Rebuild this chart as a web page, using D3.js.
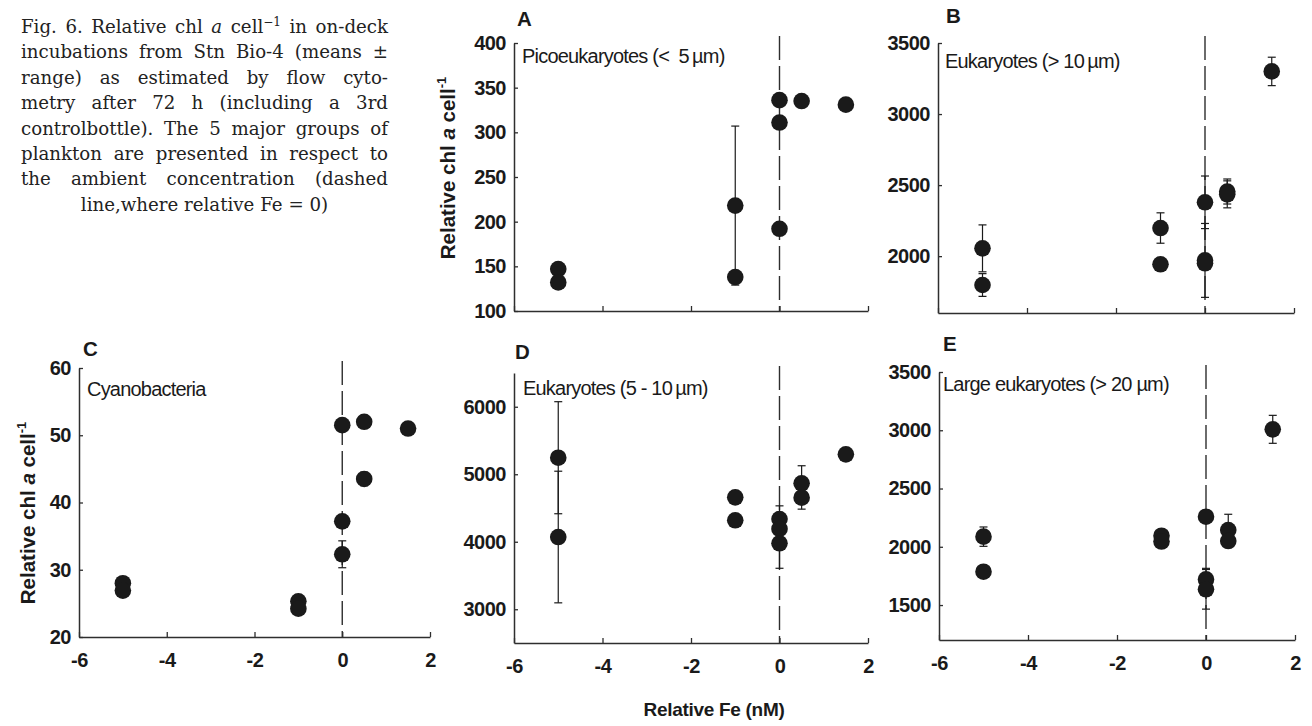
<!DOCTYPE html>
<html>
<head>
<meta charset="utf-8">
<script src="https://cdn.jsdelivr.net/npm/d3@7"></script>
<style>
  html, body { margin: 0; padding: 0; background: #fff; }
  svg { display: block; }
</style>
</head>
<body>
<svg id="chart" width="1312" height="726"></svg>
<script>
// x axis shared by all panels (relative Fe, nM)
const FE_TICKS = [-6, -4, -2, 0, 2];

// A - Picoeukaryotes (< 5 um)
const picoFe  = [-5, -5, -1, -1, 0, 0, 0, 0.5, 1.5];
const picoVal = [147, 132, 218, 138, 336, 311, 192, 335, 331];
const picoErr = [0, 0, 89, 0, 0, 0, 0, 0, 0];

// B - Eukaryotes (> 10 um)
const euk10Fe  = [-5, -5, -1, -1, 0, 0, 0, 0.5, 0.5, 1.5];
const euk10Val = [2055, 1797, 2198, 1943, 2379, 1970, 1950, 2455, 2435, 3300];
const euk10Err = [165, 80, 107, 0, 185, 260, 0, 88, 95, 100];

// C - Cyanobacteria
const cyanoFe  = [-5, -5, -1, -1, 0, 0, 0, 0.5, 0.5, 1.5];
const cyanoVal = [28.0, 26.9, 25.3, 24.2, 51.5, 37.2, 32.3, 52.0, 43.5, 51.0];
const cyanoErr = [0, 0, 0, 0, 0, 0, 2.0, 0, 1.0, 0];

// D - Eukaryotes (5 - 10 um)
const euk5Fe  = [-5, -5, -1, -1, 0, 0, 0, 0.5, 0.5, 1.5];
const euk5Val = [5245, 4070, 4658, 4318, 4337, 4189, 3977, 4866, 4653, 5295];
const euk5Err = [830, 975, 0, 0, 195, 0, 370, 260, 170, 0];

// E - Large eukaryotes (> 20 um)
const largeFe  = [-5, -5, -1, -1, 0, 0, 0, 0.5, 0.5, 1.5];
const largeVal = [2087, 1786, 2095, 2045, 2258, 1720, 1635, 2144, 2049, 3008];
const largeErr = [83, 0, 0, 0, 0, 95, 170, 135, 0, 120];

const captionLines = [
  ["Fig.", "6.", "Relative", "chl", "_a", "cell^\u22121", "in", "on-deck"],
  ["incubations", "from", "Stn", "Bio-4", "(means", "\u00b1"],
  ["range)", "as", "estimated", "by", "flow", "cyto-"],
  ["metry", "after", "72", "h", "(including", "a", "3rd"],
  ["controlbottle).", "The", "5", "major", "groups", "of"],
  ["plankton", "are", "presented", "in", "respect", "to"],
  ["the", "ambient", "concentration", "(dashed"],
  ["line,where", "relative", "Fe", "=", "0)"]
];

const panels = [
  { letter: "A", title: "Picoeukaryotes (<\u00a0 5\u2009\u00b5m)", fe: picoFe, val: picoVal, err: picoErr,
    domain: [100, 400], yTicks: [100, 150, 200, 250, 300, 350, 400], showX: false,
    box: { l: 514, r: 868, t: 43, b: 311 }, letterAt: [517, 26], titleAt: [522, 63] },
  { letter: "B", title: "Eukaryotes (> 10\u2009\u00b5m)", fe: euk10Fe, val: euk10Val, err: euk10Err,
    domain: [1600, 3500], yTicks: [2000, 2500, 3000, 3500], showX: false,
    box: { l: 938, r: 1294, t: 43, b: 313 }, letterAt: [946, 23], titleAt: [945, 68] },
  { letter: "C", title: "Cyanobacteria", fe: cyanoFe, val: cyanoVal, err: cyanoErr,
    domain: [20, 60], yTicks: [20, 30, 40, 50, 60], showX: true,
    box: { l: 79, r: 430, t: 368, b: 637 }, letterAt: [83, 356], titleAt: [87, 396] },
  { letter: "D", title: "Eukaryotes (5 - 10\u2009\u00b5m)", fe: euk5Fe, val: euk5Val, err: euk5Err,
    domain: [2500, 6500], yTicks: [3000, 4000, 5000, 6000], showX: true,
    box: { l: 514, r: 868, t: 373, b: 643 }, letterAt: [515, 359], titleAt: [523, 395] },
  { letter: "E", title: "Large eukaryotes (> 20 \u00b5m)", fe: largeFe, val: largeVal, err: largeErr,
    domain: [1200, 3500], yTicks: [1500, 2000, 2500, 3000, 3500], showX: true,
    box: { l: 939, r: 1295, t: 372, b: 640 }, letterAt: [943, 351], titleAt: [943, 391] }
];

const INK = "#1a1a1a";
const AXIS = "#2e2e2e";
const SANS = "'Liberation Sans', Arial, Helvetica, sans-serif";
const SERIF = "'DejaVu Serif', 'Liberation Serif', serif";

const svg = d3.select("#chart");

function drawPanel(p) {
  const g = svg.append("g").attr("class", "panel-" + p.letter);
  const x = d3.scaleLinear().domain([-6, 2]).range([p.box.l, p.box.r]);
  const y = d3.scaleLinear().domain(p.domain).range([p.box.b, p.box.t]);

  const xAxis = d3.axisBottom(x)
    .tickValues(FE_TICKS)
    .tickSizeInner(-5)
    .tickSizeOuter(0)
    .tickPadding(16)
    .tickFormat(p.showX ? d => String(d) : () => "");

  const yAxis = d3.axisLeft(y)
    .tickValues(p.yTicks)
    .tickSizeInner(-4)
    .tickSizeOuter(0)
    .tickPadding(8)
    .tickFormat(d => String(d));

  const gx = g.append("g").attr("transform", `translate(0,${p.box.b})`).call(xAxis);
  const gy = g.append("g").attr("transform", `translate(${p.box.l},0)`).call(yAxis);

  [gx, gy].forEach(a => {
    a.select(".domain").attr("stroke", AXIS).attr("stroke-width", 1.5);
    a.selectAll(".tick line").attr("stroke", AXIS).attr("stroke-width", 1.3);
    a.selectAll(".tick text")
      .attr("fill", INK)
      .style("font-family", SANS)
      .style("font-weight", "bold")
      .style("font-size", "20px")
      .style("letter-spacing", "-0.5px");
  });

  // ambient concentration line at relative Fe = 0
  g.append("line")
    .attr("x1", x(0)).attr("x2", x(0))
    .attr("y1", y.range()[1] - 7).attr("y2", y.range()[0])
    .attr("stroke", AXIS)
    .attr("stroke-width", 1.4)
    .attr("stroke-dasharray", "24,6");

  const pts = p.fe.map((f, i) => ({ fe: f, v: p.val[i], e: p.err[i] }));

  const bars = g.append("g").selectAll("g")
    .data(pts.filter(d => d.e > 0))
    .enter().append("g")
    .attr("stroke", INK)
    .attr("stroke-width", 1.2);
  bars.append("line")
    .attr("x1", d => x(d.fe)).attr("x2", d => x(d.fe))
    .attr("y1", d => y(d.v - d.e)).attr("y2", d => y(d.v + d.e));
  bars.append("line")
    .attr("x1", d => x(d.fe) - 4).attr("x2", d => x(d.fe) + 4)
    .attr("y1", d => y(d.v + d.e)).attr("y2", d => y(d.v + d.e));
  bars.append("line")
    .attr("x1", d => x(d.fe) - 4).attr("x2", d => x(d.fe) + 4)
    .attr("y1", d => y(d.v - d.e)).attr("y2", d => y(d.v - d.e));

  g.append("g").selectAll("circle")
    .data(pts)
    .enter().append("circle")
    .attr("cx", d => x(d.fe))
    .attr("cy", d => y(d.v))
    .attr("r", 8.3)
    .attr("fill", INK);

  g.append("text")
    .attr("x", p.letterAt[0]).attr("y", p.letterAt[1])
    .attr("fill", INK)
    .style("font-family", SANS)
    .style("font-weight", "bold")
    .style("font-size", "20.5px")
    .text(p.letter);

  g.append("text")
    .attr("x", p.titleAt[0]).attr("y", p.titleAt[1])
    .attr("fill", INK)
    .style("font-family", SANS)
    .style("font-size", "20px")
    .style("letter-spacing", "-0.8px")
    .text(p.title);
}

panels.forEach(drawPanel);

function yTitle(cx, cy) {
  const t = svg.append("text")
    .attr("transform", `translate(${cx},${cy}) rotate(-90)`)
    .attr("text-anchor", "middle")
    .attr("fill", INK)
    .style("font-family", SANS)
    .style("font-weight", "bold")
    .style("font-size", "20.5px");
  t.append("tspan").text("Relative chl ");
  t.append("tspan").style("font-style", "italic").text("a");
  t.append("tspan").text(" cell");
  t.append("tspan").attr("dy", -9).style("font-size", "13px").text("-1");
}
yTitle(455, 168);
yTitle(35, 513);

svg.append("text")
  .attr("x", 714).attr("y", 716)
  .attr("text-anchor", "middle")
  .attr("fill", INK)
  .style("font-family", SANS)
  .style("font-weight", "bold")
  .style("font-size", "19px")
  .style("letter-spacing", "-0.3px")
  .text("Relative Fe (nM)");

// caption, justified between two margins
const CAP_L = 21, CAP_R = 388, CAP_SIZE = 18.2;
const cap = svg.append("g")
  .attr("fill", "#222")
  .style("font-family", SERIF)
  .style("font-size", CAP_SIZE + "px");

captionLines.forEach((words, li) => {
  const base = 33 + li * 25.4;
  const line = cap.append("g");
  const nodes = words.map(w => {
    const t = line.append("text").attr("y", base);
    if (w.startsWith("_")) {
      t.append("tspan").style("font-style", "italic").text(w.slice(1));
    } else if (w.includes("^")) {
      const [main, sup] = w.split("^");
      t.append("tspan").text(main);
      t.append("tspan").attr("dy", -7).style("font-size", "12px").text(sup);
    } else {
      t.text(w);
    }
    return t;
  });
  const widths = nodes.map(n => n.node().getComputedTextLength());
  const total = d3.sum(widths);
  const last = li === captionLines.length - 1;
  const minGap = CAP_SIZE * 0.25;
  let gap = CAP_SIZE * 0.32;
  let xPos;
  let squeeze = 1;
  if (last) {
    xPos = (CAP_L + CAP_R) / 2 - (total + gap * (words.length - 1)) / 2;
  } else {
    gap = (CAP_R - CAP_L - total) / (words.length - 1);
    if (gap < minGap) {
      // too long for the column: keep a normal gap and squeeze the line
      gap = minGap;
      squeeze = (CAP_R - CAP_L) / (total + gap * (words.length - 1));
    }
    xPos = CAP_L;
  }
  nodes.forEach((n, i) => {
    n.attr("x", xPos);
    xPos += widths[i] + gap;
  });
  if (squeeze !== 1) {
    line.attr("transform", `translate(${CAP_L},0) scale(${squeeze},1) translate(${-CAP_L},0)`);
  }
});
</script>
</body>
</html>
